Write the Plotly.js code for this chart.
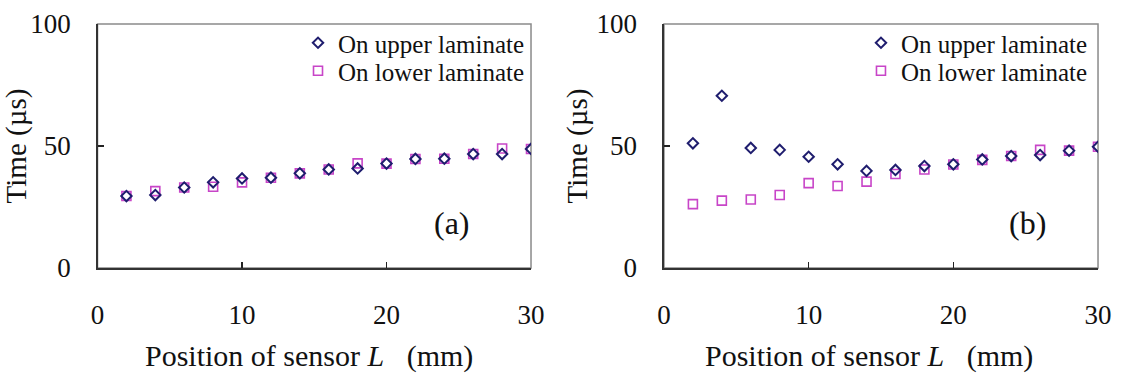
<!DOCTYPE html>
<html>
<head>
<meta charset="utf-8">
<script src="https://cdn.plot.ly/plotly-3.0.1.min.js"></script>
<style>html,body{margin:0;padding:0;background:#fff;}#chart{width:1121px;height:374px;}</style>
</head>
<body>
<div id="chart"></div>
<script>
// Sensor positions (mm)
const positions = [2, 4, 6, 8, 10, 12, 14, 16, 18, 20, 22, 24, 26, 28, 30];
// Panel (a) arrival times (µs)
const upperA = [29.5, 29.9, 33.0, 35.1, 36.7, 37.0, 38.8, 40.4, 40.8, 42.8, 44.7, 44.8, 46.7, 46.7, 48.8];
const lowerA = [29.5, 31.5, 33.0, 33.3, 35.1, 37.0, 38.8, 40.4, 42.9, 42.8, 44.7, 44.8, 46.7, 49.0, 48.8];
// Panel (b) arrival times (µs)
const upperB = [51.1, 70.6, 49.2, 48.4, 45.6, 42.5, 39.8, 40.2, 41.8, 42.5, 44.5, 45.9, 46.3, 48.1, 49.7];
const lowerB = [26.2, 27.6, 28.1, 29.9, 34.8, 33.6, 35.4, 38.5, 40.4, 42.4, 44.3, 45.9, 48.4, 48.1, 49.7];
const seriesNames = ["On upper laminate", "On lower laminate"];
const panelLabels = ["(a)", "(b)"];
const xTitle = "Position of sensor <i>L</i>   (mm)";
const yTitle = "Time (µs)";
const xTicks = [0, 10, 20, 30];
const yTicks = [0, 50, 100];

const FONT = "Liberation Serif";
const navy = "#1f1d6e";
const magenta = "#c845c8";

function upperTrace(y, xa, ya, leg) {
  return {x: positions, y: y, type: "scatter", mode: "markers", name: seriesNames[0],
    xaxis: xa, yaxis: ya, legend: leg, showlegend: true,
    marker: {symbol: "diamond-open", size: 8, color: navy, line: {width: 2, color: navy}}};
}
function lowerTrace(y, xa, ya, leg) {
  return {x: positions, y: y, type: "scatter", mode: "markers", name: seriesNames[1],
    xaxis: xa, yaxis: ya, legend: leg, showlegend: true,
    marker: {symbol: "square-open", size: 9, color: magenta, line: {width: 1.6, color: magenta}}};
}

const data = [
  lowerTrace(lowerA, "x", "y", "legend2"),
  upperTrace(upperA, "x", "y", "legend"),
  lowerTrace(lowerB, "x2", "y2", "legend4"),
  upperTrace(upperB, "x2", "y2", "legend3")
];

function xAxis(domain, anchor) {
  return {domain: domain, anchor: anchor, range: [0, 30], tickvals: xTicks, ticktext: xTicks.map(String),
    ticks: "inside", ticklen: 6, tickwidth: 1.5, tickcolor: "#222", showline: true, linecolor: "#333", linewidth: 1.5,
    showgrid: false, zeroline: false, fixedrange: true, ticklabelstandoff: 22,
    tickfont: {family: FONT, size: 27, color: "#111"}};
}
function yAxis(domain, anchor) {
  return {domain: domain, anchor: anchor, range: [0, 100], tickvals: yTicks, ticktext: yTicks.map(String),
    ticks: "inside", ticklen: 6, tickwidth: 1.5, tickcolor: "#222", showline: true, linecolor: "#333", linewidth: 1.5,
    showgrid: false, zeroline: false, fixedrange: true, ticklabelstandoff: 20,
    tickfont: {family: FONT, size: 27, color: "#111"},
    title: {text: yTitle, font: {family: FONT, size: 29, color: "#111"}, standoff: 0}};
}

const yDom = [0.2834, 0.9358];
const legendStyle = {font: {family: FONT, size: 25, color: "#111"}, bgcolor: "rgba(0,0,0,0)",
  xanchor: "right", yanchor: "middle", itemwidth: 30, visible: true};

const annFont = {family: FONT, size: 30, color: "#111"};
const layout = {
  width: 1121, height: 374,
  margin: {l: 0, r: 0, t: 0, b: 0},
  showlegend: true,
  paper_bgcolor: "#fff", plot_bgcolor: "#fff",
  xaxis: xAxis([0.0870, 0.4737], "y"),
  yaxis: yAxis(yDom, "x"),
  xaxis2: xAxis([0.5923, 0.9795], "y2"),
  yaxis2: yAxis(yDom, "x2"),
  legend: Object.assign({x: 0.4728, y: 0.885}, legendStyle),
  legend2: Object.assign({x: 0.4728, y: 0.810}, legendStyle),
  legend3: Object.assign({x: 0.975, y: 0.885}, legendStyle),
  legend4: Object.assign({x: 0.975, y: 0.810}, legendStyle),
  shapes: [
    {type: "rect", xref: "x domain", yref: "y domain", x0: 0, x1: 1, y0: 0, y1: 1, line: {color: "#8a8a8a", width: 1.5}, layer: "below"},
    {type: "rect", xref: "x2 domain", yref: "y2 domain", x0: 0, x1: 1, y0: 0, y1: 1, line: {color: "#8a8a8a", width: 1.5}, layer: "below"}
  ],
  annotations: [
    {xref: "x domain", yref: "y domain", x: 0.863, y: 0.102, text: panelLabels[0], showarrow: false,
     font: {family: FONT, size: 32, color: "#111"}},
    {xref: "x2 domain", yref: "y2 domain", x: 0.885, y: 0.102, text: panelLabels[1], showarrow: false,
     font: {family: FONT, size: 32, color: "#111"}},
    {xref: "x domain", yref: "paper", x: 0.488, y: 0.048, text: xTitle, showarrow: false,
     xanchor: "center", yanchor: "middle", font: annFont},
    {xref: "x2 domain", yref: "paper", x: 0.472, y: 0.048, text: xTitle, showarrow: false,
     xanchor: "center", yanchor: "middle", font: annFont}
  ]
};

Plotly.newPlot("chart", data, layout, {displayModeBar: false, staticPlot: true});
</script>
</body>
</html>
